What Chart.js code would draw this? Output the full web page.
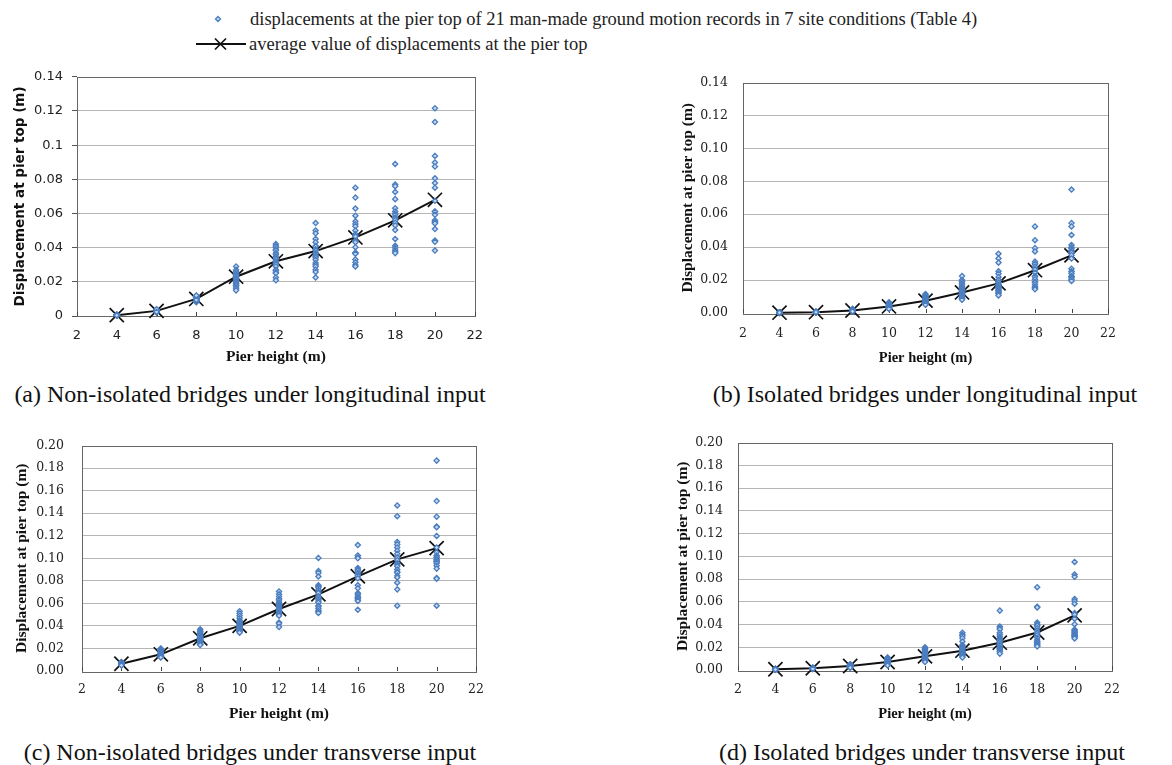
<!DOCTYPE html>
<html>
<head>
<meta charset="utf-8">
<script src="https://cdn.jsdelivr.net/npm/chart.js@4.4.1/dist/chart.umd.min.js"></script>
<style>
  body { margin: 0; background: #fff; width: 1172px; height: 765px; position: relative; overflow: hidden; }
  canvas { position: absolute; }
  .leg { position: absolute; font-family: "Liberation Serif", serif; font-size: 18.5px; color: #222; white-space: nowrap; line-height: 20px; }
  .cap { position: absolute; font-family: "Liberation Serif", "Times New Roman", serif; font-size: 24px; color: #111; white-space: nowrap; text-align: center; width: 520px; line-height: 26px; }
  svg { position: absolute; }
</style>
</head>
<body>

<svg style="left:190px;top:9px" width="65" height="45">
  <path d="M28 7.5 L30.5 10 L28 12.5 L25.5 10 Z" fill="#c9d9ef" stroke="#4a7dbf" stroke-width="1.3"/>
  <line x1="6" y1="35" x2="56" y2="35" stroke="#111" stroke-width="2"/>
  <path d="M25 29.5 L36 40.5 M36 29.5 L25 40.5" stroke="#111" stroke-width="1.7"/>
</svg>
<div class="leg" style="left:250px;top:9px">displacements at the pier top of 21 man-made ground motion records in 7 site conditions (Table 4)</div>
<div class="leg" style="left:249px;top:34px">average value of displacements at the pier top</div>

<canvas id="chartA" width="495" height="310" style="left:0;top:60px"></canvas>
<canvas id="chartB" width="572" height="310" style="left:600px;top:60px"></canvas>
<canvas id="chartC" width="495" height="310" style="left:0;top:420px"></canvas>
<canvas id="chartD" width="572" height="310" style="left:600px;top:420px"></canvas>

<div class="cap" style="left:-10px;top:381px">(a) Non-isolated bridges under longitudinal input</div>
<div class="cap" style="left:665px;top:381px">(b) Isolated bridges under longitudinal input</div>
<div class="cap" style="left:-10px;top:739px">(c) Non-isolated bridges under transverse input</div>
<div class="cap" style="left:662px;top:739px">(d) Isolated bridges under transverse input</div>

<script>
// pier heights (x categories)
const heights = [4, 6, 8, 10, 12, 14, 16, 18, 20];

// (a) non-isolated, longitudinal: 21 records per pier height
const recordsA = [
  [0.0003,0.0004,0.0005,0.0005,0.0006,0.0004,0.0005,0.0006,0.0007,0.0005,0.0004,0.0003,0.0006,0.0005,0.0005,0.0004,0.0006,0.0007,0.0008,0.0005,0.0004],
  [0.0020,0.0022,0.0025,0.0027,0.0028,0.0030,0.0030,0.0031,0.0032,0.0033,0.0034,0.0035,0.0036,0.0029,0.0028,0.0026,0.0032,0.0034,0.0038,0.0040,0.0024],
  [0.0080,0.0085,0.0088,0.0090,0.0092,0.0095,0.0097,0.0098,0.0100,0.0100,0.0102,0.0104,0.0105,0.0107,0.0108,0.0110,0.0112,0.0115,0.0118,0.0120,0.0094],
  [0.029,0.027,0.026,0.025,0.024,0.024,0.023,0.023,0.022,0.022,0.021,0.021,0.020,0.020,0.019,0.019,0.018,0.018,0.017,0.016,0.015],
  [0.0422,0.0410,0.0403,0.0390,0.0383,0.0368,0.0360,0.0349,0.0340,0.0333,0.0320,0.0316,0.0310,0.0302,0.0290,0.0270,0.0267,0.0256,0.0250,0.0225,0.0209],
  [0.0544,0.0500,0.0484,0.0451,0.0432,0.0410,0.0407,0.0390,0.0383,0.0370,0.0364,0.0352,0.0350,0.0341,0.0329,0.0310,0.0300,0.0290,0.0271,0.0258,0.0225],
  [0.0751,0.0693,0.0629,0.0587,0.0554,0.0538,0.0525,0.0500,0.0480,0.0470,0.0465,0.0440,0.0432,0.0403,0.0370,0.0368,0.0364,0.0331,0.0314,0.0298,0.0290],
  [0.0890,0.0770,0.0760,0.0726,0.0684,0.0631,0.0612,0.0600,0.0592,0.0577,0.0570,0.0561,0.0546,0.0530,0.0503,0.0451,0.0411,0.0399,0.0387,0.0376,0.0368],
  [0.1216,0.1135,0.0937,0.0898,0.0875,0.0806,0.0778,0.0751,0.0674,0.0612,0.0610,0.0592,0.0561,0.0550,0.0550,0.0542,0.0509,0.0441,0.0440,0.0434,0.0383]
];
const averageA = [0.0005, 0.003, 0.010, 0.023, 0.032, 0.038, 0.046, 0.056, 0.068];

// (b) isolated, longitudinal
const recordsB = [
  [0.0001,0.0002,0.0002,0.0003,0.0002,0.0001,0.0002,0.0003,0.0004,0.0002,0.0002,0.0001,0.0003,0.0002,0.0002,0.0003,0.0002,0.0001,0.0002,0.0003,0.0002],
  [0.0003,0.0004,0.0004,0.0005,0.0005,0.0005,0.0006,0.0006,0.0004,0.0005,0.0007,0.0008,0.0005,0.0004,0.0006,0.0005,0.0003,0.0005,0.0006,0.0004,0.0005],
  [0.0025,0.0023,0.0021,0.0020,0.0019,0.0018,0.0017,0.0016,0.0016,0.0015,0.0015,0.0014,0.0014,0.0013,0.0013,0.0012,0.0012,0.0011,0.0011,0.0010,0.0010],
  [0.0065,0.0060,0.0055,0.0050,0.0050,0.0048,0.0045,0.0043,0.0042,0.0040,0.0040,0.0038,0.0037,0.0035,0.0034,0.0032,0.0030,0.0030,0.0028,0.0027,0.0025],
  [0.0115,0.0110,0.0105,0.0100,0.0095,0.0090,0.0088,0.0085,0.0080,0.0078,0.0075,0.0072,0.0070,0.0068,0.0065,0.0062,0.0060,0.0058,0.0055,0.0052,0.0050],
  [0.0224,0.020,0.019,0.018,0.017,0.016,0.015,0.015,0.014,0.014,0.013,0.013,0.012,0.012,0.011,0.011,0.010,0.010,0.009,0.009,0.008],
  [0.0360,0.0331,0.0306,0.0253,0.0238,0.0218,0.0200,0.0199,0.0185,0.0172,0.0170,0.0160,0.0156,0.0150,0.0140,0.0140,0.0130,0.0127,0.0120,0.0117,0.0107],
  [0.0526,0.0442,0.0394,0.0374,0.0312,0.0300,0.0298,0.0283,0.0270,0.0263,0.0244,0.0224,0.0220,0.0205,0.0190,0.0185,0.0172,0.0160,0.0156,0.0150,0.0144],
  [0.0750,0.0546,0.0526,0.0474,0.0413,0.0400,0.0390,0.0380,0.0370,0.0366,0.0351,0.0331,0.0269,0.0253,0.0250,0.0240,0.0224,0.0220,0.0214,0.0205,0.0195]
];
const averageB = [0.0002, 0.0005, 0.0015, 0.004, 0.0075, 0.0125, 0.018, 0.026, 0.035];

// (c) non-isolated, transverse
const recordsC = [
  [0.0080,0.0078,0.0075,0.0072,0.0070,0.0068,0.0067,0.0066,0.0065,0.0064,0.0063,0.0062,0.0061,0.0060,0.0059,0.0058,0.0057,0.0056,0.0055,0.0053,0.0050],
  [0.0200,0.0195,0.0190,0.0185,0.0180,0.0175,0.0170,0.0165,0.0160,0.0158,0.0155,0.0150,0.0148,0.0145,0.0140,0.0138,0.0135,0.0130,0.0128,0.0125,0.0120],
  [0.0370,0.0355,0.0350,0.0340,0.0330,0.0320,0.0310,0.0305,0.0300,0.0295,0.0290,0.0285,0.0280,0.0275,0.0270,0.0260,0.0255,0.0250,0.0240,0.0235,0.0230],
  [0.053,0.051,0.049,0.047,0.045,0.044,0.043,0.042,0.041,0.040,0.040,0.039,0.039,0.038,0.038,0.037,0.037,0.036,0.035,0.035,0.034],
  [0.0705,0.068,0.066,0.064,0.063,0.061,0.060,0.059,0.058,0.057,0.056,0.055,0.054,0.053,0.052,0.051,0.050,0.049,0.043,0.042,0.039],
  [0.1003,0.0886,0.0870,0.0838,0.0760,0.0750,0.0738,0.0719,0.0700,0.0691,0.0663,0.0650,0.0635,0.0620,0.0607,0.0579,0.0570,0.0552,0.0532,0.0530,0.0515],
  [0.1117,0.1025,0.1006,0.1000,0.0914,0.0900,0.0890,0.0872,0.0860,0.0844,0.0822,0.0760,0.0733,0.0691,0.0680,0.0663,0.0650,0.0643,0.0630,0.0621,0.0543],
  [0.1468,0.1373,0.1145,0.1123,0.1095,0.1067,0.1010,0.1039,0.1006,0.0983,0.0955,0.0940,0.0928,0.0900,0.0880,0.0872,0.0844,0.0830,0.0783,0.0724,0.0579],
  [0.1866,0.1507,0.1368,0.1281,0.1276,0.1198,0.1095,0.1053,0.1025,0.1010,0.1006,0.0990,0.0983,0.0970,0.0969,0.0955,0.0933,0.0908,0.0825,0.0819,0.0579]
];
const averageC = [0.0064, 0.0148, 0.029, 0.040, 0.055, 0.068, 0.084, 0.099, 0.109];

// (d) isolated, transverse
const recordsD = [
  [0.0010,0.0009,0.0008,0.0008,0.0007,0.0007,0.0007,0.0006,0.0006,0.0006,0.0005,0.0005,0.0005,0.0005,0.0004,0.0004,0.0004,0.0004,0.0003,0.0003,0.0003],
  [0.0020,0.0019,0.0018,0.0018,0.0017,0.0017,0.0016,0.0016,0.0015,0.0015,0.0015,0.0014,0.0014,0.0014,0.0013,0.0013,0.0012,0.0012,0.0011,0.0011,0.0010],
  [0.0050,0.0048,0.0045,0.0043,0.0042,0.0040,0.0039,0.0038,0.0037,0.0036,0.0035,0.0034,0.0033,0.0032,0.0031,0.0030,0.0028,0.0027,0.0025,0.0022,0.0020],
  [0.0110,0.0105,0.0100,0.0095,0.0090,0.0085,0.0080,0.0078,0.0075,0.0072,0.0070,0.0068,0.0065,0.0062,0.0060,0.0058,0.0055,0.0050,0.0048,0.0045,0.0040],
  [0.020,0.019,0.018,0.017,0.016,0.015,0.0145,0.014,0.0135,0.013,0.0125,0.012,0.0115,0.011,0.0105,0.010,0.0095,0.009,0.0085,0.008,0.007],
  [0.0328,0.031,0.030,0.028,0.025,0.022,0.021,0.020,0.019,0.018,0.017,0.016,0.016,0.015,0.015,0.014,0.014,0.013,0.013,0.012,0.011],
  [0.0522,0.0383,0.0370,0.0356,0.0328,0.0310,0.0292,0.0280,0.0270,0.0264,0.0250,0.0236,0.0220,0.0217,0.0200,0.0194,0.0190,0.0180,0.0167,0.0160,0.0144],
  [0.0728,0.0556,0.0550,0.0417,0.0403,0.0390,0.0389,0.0367,0.0347,0.0330,0.0325,0.0306,0.0283,0.0264,0.0250,0.0244,0.0230,0.0228,0.0220,0.0210,0.0208],
  [0.0950,0.0839,0.0819,0.0625,0.0606,0.0583,0.0500,0.0486,0.0450,0.0403,0.0356,0.0350,0.0339,0.0330,0.0319,0.0310,0.0306,0.0300,0.0292,0.0290,0.0278]
];
const averageD = [0.0007, 0.0015, 0.0035, 0.007, 0.012, 0.017, 0.024, 0.033, 0.048];

const yTitle = 'Displacement at pier top (m)';
const xTitle = 'Pier height (m)';

// frame round the plot area + inside x tick marks (Excel style)
const framePlugin = {
  id: 'frame',
  beforeDatasetsDraw(chart) {
    const {ctx, chartArea: a, scales} = chart;
    ctx.save();
    ctx.strokeStyle = '#666';
    ctx.lineWidth = 1;
    ctx.strokeRect(Math.round(a.left) + 0.5, Math.round(a.top) + 0.5, Math.round(a.right - a.left), Math.round(a.bottom - a.top));
    ctx.strokeStyle = '#444';
    ctx.beginPath();
    scales.x.ticks.forEach(t => {
      const px = Math.round(scales.x.getPixelForValue(t.value)) + 0.5;
      ctx.moveTo(px, a.bottom);
      ctx.lineTo(px, a.bottom - 4);
    });
    ctx.stroke();
    ctx.restore();
  }
};

function makeChart(id, records, average, yMax, opt) {
  const pts = heights.flatMap((h, i) => records[i].map(v => ({x: h, y: v})));
  const line = heights.map((h, i) => ({x: h, y: average[i]}));
  new Chart(document.getElementById(id), {
    type: 'scatter',
    data: {
      datasets: [{
        data: pts,
        pointStyle: 'rectRot',
        pointRadius: 2.6,
        borderWidth: 1.3,
        borderColor: '#4a7dbf',
        backgroundColor: '#c9d9ef',
        clip: false
      }, {
        type: 'line',
        data: line,
        borderColor: '#111',
        borderWidth: 2,
        pointStyle: 'crossRot',
        pointRadius: 10,
        pointBorderWidth: 1.7,
        pointBorderColor: '#111',
        clip: false
      }]
    },
    options: {
      responsive: false,
      animation: false,
      events: [],
      layout: {padding: {left: opt.padL, top: opt.padT, right: opt.padR, bottom: 0}},
      plugins: {legend: {display: false}, tooltip: {enabled: false}},
      scales: {
        x: {
          type: 'linear', min: 2, max: 22,
          ticks: {stepSize: 2, padding: opt.xPad, color: '#222', font: {family: opt.tickFont, size: opt.tickSize}},
          grid: {display: false, drawTicks: false},
          border: {display: false},
          title: {display: true, text: xTitle, color: '#111', padding: {top: 0, bottom: opt.xTitlePad},
                  font: {family: 'Liberation Serif', size: opt.xTitleSize, weight: 'bold'}},
          afterFit: s => { s.height = opt.xh; }
        },
        y: {
          min: 0, max: yMax,
          ticks: {stepSize: 0.02, padding: opt.yPad, color: '#222', font: {family: opt.tickFont, size: opt.tickSize},
                  callback: v => opt.general ? String(+v.toFixed(2)) : v.toFixed(2)},
          grid: {
            color: c => (c.index === 0 || c.tick.value > yMax - 1e-6) ? 'rgba(0,0,0,0)' : '#b5b5b5',
            borderDash: [5, 4],
            drawTicks: opt.yTicks,
            tickLength: 5,
            tickColor: '#555',
            tickBorderDash: []
          },
          border: {display: false},
          title: {display: true, text: yTitle, color: '#111', padding: {top: opt.yTitlePad, bottom: 0},
                  font: {family: opt.yTitleFont, size: opt.yTitleSize, weight: 'bold'}},
          afterFit: s => { s.width = opt.yw; }
        }
      }
    },
    plugins: [framePlugin]
  });
}

makeChart('chartA', recordsA, averageA, 0.14, {
  padL: 0, padT: 15, padR: 11, yw: 77, xh: 54, general: true, yTicks: true,
  tickFont: 'DejaVu Sans', tickSize: 13, xPad: 12, yPad: 9,
  yTitleFont: 'DejaVu Sans', yTitleSize: 13.5, yTitlePad: 12, xTitleSize: 15.5, xTitlePad: 4
});
makeChart('chartB', recordsB, averageB, 0.14, {
  padL: 70, padT: 14, padR: 64, yw: 73, xh: 57, general: false, yTicks: false,
  tickFont: 'DejaVu Serif', tickSize: 12.5, xPad: 13, yPad: 15,
  yTitleFont: 'Liberation Serif', yTitleSize: 15.5, yTitlePad: 9, xTitleSize: 14.5, xTitlePad: 3
});
makeChart('chartC', recordsC, averageC, 0.20, {
  padL: 0, padT: 12, padR: 13, yw: 82, xh: 59, general: false, yTicks: false,
  tickFont: 'DejaVu Serif', tickSize: 12.5, xPad: 11, yPad: 18,
  yTitleFont: 'Liberation Serif', yTitleSize: 15.5, yTitlePad: 13, xTitleSize: 15.5, xTitlePad: 7
});
makeChart('chartD', recordsD, averageD, 0.20, {
  padL: 65, padT: 10, padR: 60, yw: 73, xh: 60, general: false, yTicks: false,
  tickFont: 'DejaVu Serif', tickSize: 12.5, xPad: 12, yPad: 15,
  yTitleFont: 'Liberation Serif', yTitleSize: 15.5, yTitlePad: 9, xTitleSize: 14.5, xTitlePad: 7
});
</script>
</body>
</html>
